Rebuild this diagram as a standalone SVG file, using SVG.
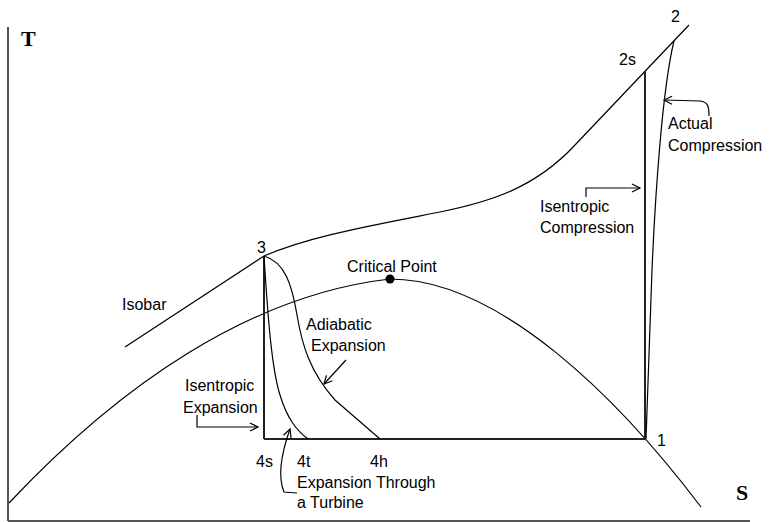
<svg xmlns="http://www.w3.org/2000/svg" width="769" height="522" viewBox="0 0 769 522">
<defs>
<marker id="arr" markerUnits="userSpaceOnUse" markerWidth="12" markerHeight="12" refX="9" refY="5" orient="auto">
<path d="M1,1 L9,5 L1,9" fill="none" stroke="#000" stroke-width="1.2"/>
</marker>
<style>
.ln{fill:none;stroke:#000;stroke-width:1.2}
.thk{fill:none;stroke:#222;stroke-width:2}
.ax{fill:none;stroke:#555;stroke-width:2}
.lbl{font-family:"Liberation Sans",Arial,sans-serif;font-size:16px;fill:#000}
.axl{font-family:"Liberation Serif","Times New Roman",serif;font-size:22px;font-weight:bold;fill:#000}
</style>
</defs>
<rect width="769" height="522" fill="#fff"/>
<g id="axes">
<line class="ax" x1="8" y1="27" x2="8" y2="521"/>
<line class="ax" x1="8" y1="521" x2="750" y2="521"/>
<text class="axl" x="21" y="46">T</text>
<text class="axl" x="736" y="500">S</text>
</g>
<g id="connectors">
<path id="dome" class="ln" d="M9,503 C120,385 250,295 390,279 C500,279 620,400 701,507"/>
<path id="isobar" class="ln" d="M125,347 L264,256 C310,236 370,226 440,212 C490,202 535,188 575,145 L689,25"/>
<line class="thk" x1="264" y1="256" x2="264" y2="439"/>
<line class="thk" x1="264" y1="439" x2="645" y2="439"/>
<line class="thk" x1="645" y1="71" x2="645" y2="439"/>
<path id="actual" class="ln" d="M674,41 C662,90 655,200 652,270 L646,439"/>
<path id="turbine" class="ln" d="M264,256 C268,320 272,370 280,395 C287,418 296,430 308,439"/>
<path id="adiabatic" class="ln" d="M264,256 C285,262 292,285 297,315 C302,345 310,372 335,400 L380,439"/>
<path class="ln" d="M709,116 C709,106 708,102 700,101 L664,100" marker-end="url(#arr)"/>
<path class="ln" d="M586,197 L586,188 L640,188" marker-end="url(#arr)"/>
<path class="ln" d="M346,360 L324,384" marker-end="url(#arr)"/>
<path class="ln" d="M197,415 L197,427 L258,427" marker-end="url(#arr)"/>
<path class="ln" d="M297,493 L284,492 C279,480 279,460 290,429" marker-end="url(#arr)"/>
</g>
<g id="critical">
<circle cx="390" cy="279" r="4.5" fill="#000"/>
<text class="lbl" x="347" y="272">Critical Point</text>
</g>
<g id="labels">
<text class="lbl" x="671" y="22">2</text>
<text class="lbl" x="619" y="65">2s</text>
<text class="lbl" x="257" y="253">3</text>
<text class="lbl" x="657" y="446">1</text>
<text class="lbl" x="256" y="467">4s</text>
<text class="lbl" x="297" y="467">4t</text>
<text class="lbl" x="370" y="467">4h</text>
<text class="lbl" x="122" y="310">Isobar</text>
<text class="lbl" x="668" y="129">Actual</text>
<text class="lbl" x="668" y="151">Compression</text>
<text class="lbl" x="540" y="212">Isentropic</text>
<text class="lbl" x="540" y="233">Compression</text>
<text class="lbl" x="306" y="330">Adiabatic</text>
<text class="lbl" x="311" y="351">Expansion</text>
<text class="lbl" x="185" y="391">Isentropic</text>
<text class="lbl" x="183" y="413">Expansion</text>
<text class="lbl" x="297" y="488">Expansion Through</text>
<text class="lbl" x="297" y="508">a Turbine</text>
</g>
</svg>
